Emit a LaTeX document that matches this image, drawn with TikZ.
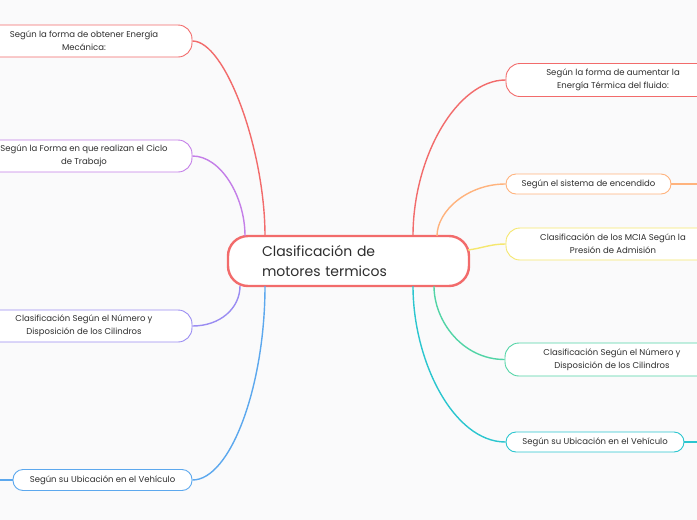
\documentclass[tikz,border=0pt]{standalone}
\usepackage{fontspec}
\setmainfont{Poppins}
\definecolor{bg}{HTML}{FAFAFB}
\definecolor{txt}{HTML}{2E2E2E}
\definecolor{cred}{HTML}{F26B6B}
\definecolor{cpurple}{HTML}{C47EE8}
\definecolor{cviolet}{HTML}{9A8CF2}
\definecolor{cblue}{HTML}{5CA8EE}
\definecolor{corange}{HTML}{FFB37D}
\definecolor{cyellow}{HTML}{F5E76E}
\definecolor{cgreen}{HTML}{52D4A6}
\definecolor{ccyan}{HTML}{2BC6CF}
\begin{document}
\begin{tikzpicture}[x=1pt,y=-1pt,
  sub/.style={draw, fill=white, rounded corners=14pt, line width=0.9pt, inner sep=0pt,
    align=center, text=txt, font=\fontsize{8.5}{12.8}\selectfont},
  subone/.style={sub, rounded corners=10pt},
  link/.style={line width=1.4pt},
  central/.style={draw=cred, fill=white, rounded corners=20pt, line width=2.4pt, inner sep=0pt,
    align=left, text width=173pt, text=txt, font=\fontsize{14}{20}\selectfont,
    minimum width=241pt, minimum height=50pt}]
\fill[bg] (0,0) rectangle (697,520);
\useasboundingbox (0,0) rectangle (697,520);
\clip (0,0) rectangle (697,520);

\node[central] (c) at (348.5,261) {Clasificación de\\motores termicos};

% left
\node[sub, draw=cred, minimum width=216pt, minimum height=32pt] (b1) at (84,41)
  {Según la forma de obtener Energía\\Mecánica:};
\node[sub, draw=cpurple, minimum width=216pt, minimum height=32pt] (b2) at (84,156)
  {Según la Forma en que realizan el Ciclo\\de Trabajo};
\node[sub, draw=cviolet, minimum width=216pt, minimum height=32pt] (b3) at (84,326)
  {Clasificación Según el Número y\\Disposición de los Cilindros};
\node[subone, draw=cblue, minimum width=179pt, minimum height=21pt] (b4) at (102.5,480)
  {Según su Ubicación en el Vehículo};

% right
\node[sub, draw=cred, minimum width=214pt, minimum height=33pt] (b5) at (613,80)
  {Según la forma de aumentar la\\Energía Térmica del fluido:};
\node[subone, draw=corange, minimum width=165pt, minimum height=20pt] (b6) at (588.5,184)
  {Según el sistema de encendido};
\node[sub, draw=cyellow, minimum width=214pt, minimum height=32pt] (b7) at (613,244)
  {Clasificación de los MCIA Según la\\Presión de Admisión};
\node[sub, draw=cgreen, minimum width=214pt, minimum height=33pt] (b8) at (612,359.5)
  {Clasificación Según el Número y\\Disposición de los Cilindros};
\node[subone, draw=ccyan, minimum width=178pt, minimum height=20pt] (b9) at (595,442)
  {Según su Ubicación en el Vehículo};

% attachment points on the central node
\coordinate (a1) at (265,236);
\coordinate (a2) at (245,236);
\coordinate (a3) at (240,286);
\coordinate (a4) at (265,286);
\coordinate (a5) at (413,236);
\coordinate (a6) at (437,236);
\coordinate (a7) at (468,250);
\coordinate (a8) at (434,286);
\coordinate (a9) at (413,286);
% free ends
\coordinate (e4) at (-2,480);
\coordinate (e6) at (699,184);
\coordinate (e9) at (699,442);

\draw[link, cred]    (b1.east) .. controls +(33,0) and +(0,-86) .. (a1);
\draw[link, cpurple] (b2.east) .. controls +(28,0) and +(0,-40) .. (a2);
\draw[link, cviolet] (b3.east) .. controls +(28,0) and +(0,22) .. (a3);
\draw[link, cblue]   (b4.east) .. controls +(38,0) and +(0,100) .. (a4);
\draw[link, cred]    (b5.west) .. controls +(-48,0) and +(0,-80) .. (a5);
\draw[link, corange] (b6.west) .. controls +(-38,0) and +(0,-25) .. (a6);
\draw[link, cyellow] (b7.west) .. controls +(-15,0) and +(15,-2) .. (a7);
\draw[link, cgreen]  (b8.west) .. controls +(-42,0) and +(0,35) .. (a8);
\draw[link, ccyan]   (b9.west) .. controls +(-52,0) and +(0,75) .. (a9);

\draw[link, cblue]   (b4.west) -- (e4);
\draw[link, corange] (b6.east) -- (e6);
\draw[link, ccyan]   (b9.east) -- (e9);
\end{tikzpicture}
\end{document}
